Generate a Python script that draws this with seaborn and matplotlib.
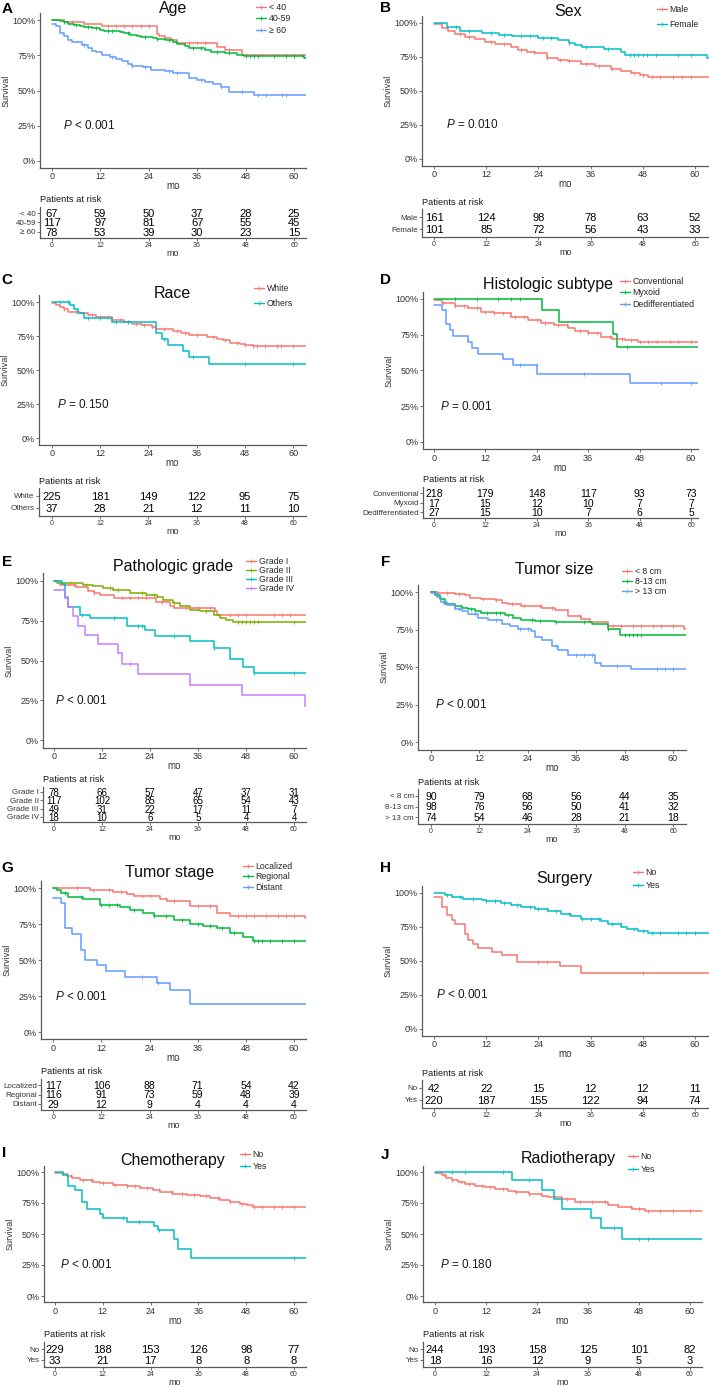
import numpy as np
import matplotlib
matplotlib.use("Agg")
import matplotlib.pyplot as plt
from matplotlib.lines import Line2D
import seaborn as sns

W, H = 709, 1387
TICKS = [0, 12, 24, 36, 48, 60]

# ---- ggplot default hue colours
C2 = ["#F8766D", "#00BFC4"]
C3 = ["#F8766D", "#00BA38", "#619CFF"]
C4 = ["#F8766D", "#7CAE00", "#00BFC4", "#C77CFF"]

# ---- A: Age
age_lt40_t = [0, 3, 8, 12.5, 26, 26.5, 28, 29.5, 31, 41, 43, 47]
age_lt40_s = [1.0, 0.985, 0.97, 0.955, 0.90, 0.89, 0.875, 0.86, 0.84, 0.81, 0.785, 0.755]
age_lt40_c = [5, 14, 16, 18, 20, 22, 24, 34, 36, 38, 44, 48, 50, 52, 58, 60, 62]
age_40_59_t = [0, 2, 3, 4, 5.5, 7, 8, 10, 12, 13, 17, 18, 19.5, 21, 22, 25, 26, 28, 30, 31, 33, 34, 38, 39.5, 43, 46, 47.5, 62.5]
age_40_59_s = [1.0, 0.99, 0.983, 0.975, 0.965, 0.957, 0.948, 0.94, 0.932, 0.925, 0.915, 0.905, 0.895, 0.887,
               0.878, 0.87, 0.862, 0.855, 0.847, 0.83, 0.815, 0.80, 0.79, 0.775, 0.765, 0.755, 0.748, 0.73]
age_40_59_c = [3, 6, 9, 11, 14, 15, 19, 23, 26, 29, 35, 37, 41, 44, 48, 49, 50, 51, 55, 58, 60]
age_ge60_t = [0, 1, 2, 3, 4, 5, 7.5, 9, 10, 11, 12.5, 14.5, 16, 17.5, 19, 20, 22.5, 24.5, 28, 30, 34, 36, 38, 40, 42, 44, 50]
age_ge60_s = [0.975, 0.955, 0.91, 0.89, 0.86, 0.845, 0.82, 0.80, 0.78, 0.77, 0.755, 0.74, 0.725, 0.71, 0.69,
              0.675, 0.665, 0.645, 0.635, 0.625, 0.59, 0.575, 0.56, 0.545, 0.525, 0.49, 0.465]
age_ge60_c = [8, 15, 20, 23, 29, 31, 37, 42, 47, 51, 53, 57, 58]
age_labels = ["< 40", "40-59", "\u2265 60"]
age_risk = [[67, 59, 50, 37, 28, 25], [117, 97, 81, 67, 55, 45], [78, 53, 39, 30, 23, 15]]

# ---- B: Sex
sex_male_t = [0, 1.8, 3.3, 4.8, 7.1, 9.4, 11.7, 14, 17.8, 19.4, 21.3, 23.2, 25.9, 28.6, 30.9, 33.9, 37, 40.8, 43.1, 45.4, 47.3, 49.3]
sex_male_s = [0.99, 0.965, 0.94, 0.92, 0.90, 0.88, 0.857, 0.843, 0.825, 0.80, 0.79, 0.78, 0.745, 0.73, 0.72,
              0.695, 0.685, 0.66, 0.648, 0.636, 0.616, 0.604]
sex_male_c = [3, 6, 8, 13, 16, 20, 23, 26, 29, 31, 35, 38, 41, 46, 48, 50, 52, 55, 57, 59]
sex_female_t = [0, 3, 6, 11, 15, 18, 24, 28.5, 31, 32.5, 34, 39, 43, 44, 62.8]
sex_female_s = [1.0, 0.97, 0.94, 0.93, 0.915, 0.905, 0.89, 0.875, 0.855, 0.84, 0.825, 0.81, 0.79, 0.765, 0.745]
sex_female_c = [5, 8, 13, 16, 20, 22, 25, 27, 31, 35, 40, 45, 46, 47, 48, 49, 51, 56, 59]
sex_labels = ["Male", "Female"]
sex_risk = [[161, 124, 98, 78, 63, 52], [101, 85, 72, 56, 43, 33]]

# ---- C: Race
race_white_t = [0, 1, 2, 3, 4, 7, 9, 11, 15, 18, 20, 22.5, 25, 26, 30, 32, 34, 38.5, 41, 42.6, 44.3, 46.8, 48, 50]
race_white_s = [0.99, 0.98, 0.965, 0.945, 0.93, 0.92, 0.905, 0.89, 0.87, 0.853, 0.84, 0.828, 0.815, 0.803,
                0.785, 0.77, 0.76, 0.746, 0.73, 0.717, 0.70, 0.692, 0.685, 0.677]
race_white_c = [3, 6, 10, 12, 14, 17, 19, 21, 23, 25, 28, 31, 33, 36, 40, 43, 46, 48, 50, 51, 53, 56, 57, 60]
race_other_t = [0, 4.5, 5.5, 6.5, 8, 15, 26, 27.5, 29, 32.5, 34, 39]
race_other_s = [1.0, 0.975, 0.95, 0.92, 0.88, 0.85, 0.77, 0.73, 0.685, 0.64, 0.595, 0.542]
race_other_c = [2, 4, 9, 12, 16, 19, 28, 35, 48, 60]
race_labels = ["White", "Others"]
race_risk = [[225, 181, 149, 122, 95, 75], [37, 28, 21, 12, 11, 10]]

# ---- D: Histologic subtype
hist_conv_t = [0, 1.8, 4.9, 8, 11, 14, 18, 22, 25, 28, 31.4, 33, 36, 39, 41.5, 44.6, 47.7, 51.6]
hist_conv_s = [0.99, 0.97, 0.953, 0.935, 0.91, 0.90, 0.877, 0.853, 0.835, 0.82, 0.80, 0.777, 0.76, 0.737,
               0.72, 0.714, 0.702, 0.698]
hist_conv_c = [2, 5, 7, 10, 12, 14, 16, 19, 21, 24, 26, 29, 31, 34, 36, 38, 41, 44, 46, 48, 50, 52, 55, 57, 60]
hist_myx_t = [0, 25.3, 29.2, 41.9, 42.8]
hist_myx_s = [1.0, 0.923, 0.837, 0.753, 0.667]
hist_myx_c = [5, 10, 15, 18, 20, 45]
hist_dd_t = [0, 1.8, 2.7, 3.7, 4.5, 8, 8.8, 10.3, 16.2, 18.5, 24.1, 45.7]
hist_dd_s = [0.96, 0.923, 0.823, 0.784, 0.744, 0.70, 0.656, 0.616, 0.58, 0.535, 0.474, 0.41]
hist_dd_c = [20, 24, 35, 53, 60]
hist_labels = ["Conventional", "Myxoid", "Dedifferentiated"]
hist_risk = [[218, 179, 148, 117, 93, 73], [17, 15, 12, 10, 7, 7], [27, 15, 10, 7, 6, 5]]

# ---- E: Pathologic grade
grade1_t = [0, 1.5, 5.5, 8.5, 10, 11.5, 15, 25.5, 29, 30, 40.2, 40.8]
grade1_s = [1.0, 0.975, 0.962, 0.94, 0.925, 0.91, 0.893, 0.866, 0.845, 0.83, 0.81, 0.788]
grade1_c = [5, 10, 17, 19, 21, 23, 27, 33, 36, 39, 44, 46, 48, 55, 57, 59]
grade2_t = [0, 0.7, 7.3, 9.8, 12.3, 14.8, 19, 23, 25.7, 27.3, 29.8, 31.5, 34, 36.5, 40, 41.5, 43, 44.8]
grade2_s = [1.0, 0.987, 0.977, 0.966, 0.956, 0.945, 0.924, 0.914, 0.897, 0.882, 0.86, 0.84, 0.82, 0.809,
            0.788, 0.767, 0.752, 0.742]
grade2_c = [4, 8, 14, 16, 22, 25, 30, 38, 46, 47, 48, 49, 50, 51, 60]
grade3_t = [0, 1.9, 2.7, 3.6, 6.5, 9, 18.2, 22.8, 25.2, 34, 40, 44, 47.3, 50]
grade3_s = [1.0, 0.98, 0.90, 0.834, 0.788, 0.765, 0.718, 0.689, 0.651, 0.62, 0.578, 0.508, 0.462, 0.42]
grade3_c = [7, 15, 21, 22, 30, 40, 50, 60]
grade4_t = [0, 2.7, 3.5, 4.8, 6, 7.7, 11, 16, 17, 21, 34, 47, 62.8]
grade4_s = [0.945, 0.89, 0.835, 0.777, 0.72, 0.662, 0.605, 0.546, 0.48, 0.414, 0.347, 0.28, 0.215]
grade4_c = [19]
grade_labels = ["Grade I", "Grade II", "Grade III", "Grade IV"]
grade_risk = [[78, 66, 57, 47, 37, 31], [117, 102, 85, 65, 54, 43], [49, 31, 22, 17, 11, 7], [18, 10, 6, 5, 4, 4]]

# ---- F: Tumor size
size_lt8_t = [0, 1.8, 5.9, 8.4, 9.7, 12.5, 15.8, 17.5, 19.1, 22.4, 27.4, 30.7, 34, 37.3, 39.4, 43.9, 62.8]
size_lt8_s = [1.0, 0.995, 0.99, 0.98, 0.96, 0.955, 0.945, 0.93, 0.922, 0.91, 0.893, 0.878, 0.838, 0.818,
              0.80, 0.773, 0.755]
size_lt8_c = [4, 7, 13, 16, 20, 23, 27, 30, 37, 45, 47, 50, 52, 55, 57, 60]
size_8_13_t = [0, 1, 2.2, 3.5, 5.9, 7.6, 9.2, 10.9, 12.5, 18.3, 20.4, 22.4, 25.7, 30.7, 39.8, 43.9, 46.8]
size_8_13_s = [1.0, 0.98, 0.955, 0.92, 0.907, 0.896, 0.889, 0.871, 0.86, 0.844, 0.829, 0.816, 0.804, 0.80,
               0.789, 0.756, 0.716]
size_8_13_c = [6, 10, 14, 16, 17, 19, 25, 27, 31, 38, 44, 48, 49, 50, 51, 52]
size_gt13_t = [0, 1.4, 2.6, 3.9, 5.9, 7.6, 9.2, 11.7, 14.2, 17.5, 19.6, 21.6, 24.9, 25.7, 27.4, 29.9, 31.5,
               34, 40.6, 42.2, 49.7]
size_gt13_s = [0.993, 0.967, 0.933, 0.911, 0.889, 0.873, 0.851, 0.829, 0.811, 0.789, 0.771, 0.756, 0.74, 0.70,
               0.682, 0.638, 0.611, 0.582, 0.529, 0.504, 0.489]
size_gt13_c = [3, 7, 11, 16, 22, 24, 31, 36, 38, 40, 46, 56, 58, 60]
size_labels = ["< 8 cm", "8-13 cm", "> 13 cm"]
size_risk = [[90, 79, 68, 56, 44, 35], [98, 76, 56, 50, 41, 32], [74, 54, 46, 28, 21, 18]]

# ---- G: Tumor stage
stage_loc_t = [0, 9.1, 15, 18.3, 20, 26.6, 28.3, 34, 40.7, 44, 62.8]
stage_loc_s = [1.0, 0.988, 0.972, 0.958, 0.942, 0.926, 0.912, 0.873, 0.826, 0.803, 0.795]
stage_loc_c = [6, 10, 14, 17, 22, 24, 28, 30, 36, 39, 46, 48, 50, 53, 56, 58, 60]
stage_reg_t = [0, 0.8, 2, 3.7, 7.5, 11.6, 16.6, 19, 22.4, 25, 30, 34, 37.4, 40.7, 44, 47.4, 49.9]
stage_reg_s = [1.0, 0.988, 0.965, 0.937, 0.924, 0.884, 0.868, 0.85, 0.826, 0.803, 0.775, 0.752, 0.734, 0.722,
               0.688, 0.657, 0.634]
stage_reg_c = [3, 7, 12, 14, 16, 20, 25, 28, 32, 36, 39, 42, 45, 50, 51, 52, 54, 57, 60]
stage_dist_t = [0, 2, 2.9, 4.6, 7, 7.9, 10.8, 13.1, 17.9, 25.8, 29.1, 34]
stage_dist_s = [0.93, 0.896, 0.722, 0.683, 0.572, 0.498, 0.463, 0.421, 0.382, 0.34, 0.289, 0.197]
stage_dist_c = [22, 26]
stage_labels = ["Localized", "Regional", "Distant"]
stage_risk = [[117, 106, 88, 71, 54, 42], [116, 91, 73, 59, 48, 39], [29, 12, 9, 4, 4, 4]]

# ---- H: Surgery
surg_no_t = [0, 1.9, 2.9, 4.1, 4.8, 7.1, 7.9, 9, 10.2, 13.3, 15.6, 19, 29, 33.9]
surg_no_s = [0.97, 0.90, 0.836, 0.80, 0.775, 0.697, 0.653, 0.623, 0.592, 0.567, 0.543, 0.494, 0.462, 0.413]
surg_no_c = [24, 26, 48]
surg_yes_t = [0, 2.5, 4.1, 6.7, 11, 12, 15.5, 17.8, 20.1, 23.2, 26.3, 29.3, 31.6, 33.9, 38.5, 40.1, 43.1,
              44.3, 47, 49.3]
surg_yes_s = [1.0, 0.988, 0.97, 0.958, 0.946, 0.94, 0.93, 0.914, 0.90, 0.885, 0.866, 0.848, 0.829, 0.807,
              0.792, 0.775, 0.75, 0.733, 0.719, 0.709]
surg_yes_c = [3, 6, 9, 12, 14, 16, 19, 22, 24, 26, 28, 31, 34, 36, 38, 41, 43, 46, 48, 50, 52, 56, 58, 60]
surg_labels = ["No", "Yes"]
surg_risk = [[42, 22, 15, 12, 12, 11], [220, 187, 155, 122, 94, 74]]

# ---- I: Chemotherapy
chemo_no_t = [0, 2.1, 3, 4.2, 6.3, 9.6, 11.3, 14.6, 18, 21.3, 24.7, 26.4, 29.7, 33.1, 36.4, 38.9, 41.4, 43.9,
              46.4, 48.1, 49.8]
chemo_no_s = [0.99, 0.987, 0.97, 0.952, 0.938, 0.919, 0.911, 0.898, 0.884, 0.871, 0.858, 0.839, 0.825, 0.817,
              0.804, 0.79, 0.772, 0.758, 0.745, 0.731, 0.72]
chemo_no_c = [2, 4, 7, 9, 12, 15, 18, 20, 23, 26, 29, 32, 35, 38, 41, 44, 47, 50, 52, 55, 57, 60]
chemo_yes_t = [0, 2.1, 3.2, 5, 6.9, 8.1, 11.3, 12.1, 18.2, 24.9, 25.9, 29.9, 31, 34.1]
chemo_yes_s = [1.0, 0.973, 0.884, 0.852, 0.758, 0.699, 0.664, 0.632, 0.597, 0.565, 0.53, 0.457, 0.382, 0.306]
chemo_yes_c = [3, 17, 21, 26, 60]
chemo_labels = ["No", "Yes"]
chemo_risk = [[229, 188, 153, 126, 98, 77], [33, 21, 17, 8, 8, 8]]

# ---- J: Radiotherapy
radio_no_t = [0, 1.6, 2.7, 3.9, 5.5, 7.1, 9.4, 11.8, 14.1, 17.2, 18.8, 22, 25.1, 26.7, 29.8, 32.9, 40.8,
              43.1, 46.3, 49.4]
radio_no_s = [0.99, 0.973, 0.951, 0.932, 0.916, 0.905, 0.889, 0.876, 0.862, 0.849, 0.838, 0.822, 0.808,
              0.797, 0.784, 0.762, 0.735, 0.716, 0.703, 0.686]
radio_no_c = [2, 4, 6, 8, 11, 13, 16, 19, 22, 25, 28, 31, 34, 37, 40, 43, 46, 48, 50, 53, 56, 60]
radio_yes_t = [0, 18, 25.1, 28, 29.9, 36.8, 39, 43.9]
radio_yes_s = [1.0, 0.932, 0.854, 0.784, 0.70, 0.632, 0.546, 0.459]
radio_yes_c = [4, 7, 16, 22, 42, 48, 50]
radio_labels = ["No", "Yes"]
radio_risk = [[244, 193, 158, 125, 101, 82], [18, 16, 12, 9, 5, 3]]

PANELS = [
    dict(letter="A", title="Age", p="< 0.001", labels=age_labels, colors=C3, risk=age_risk,
         curves=[(age_lt40_t, age_lt40_s, age_lt40_c), (age_40_59_t, age_40_59_s, age_40_59_c),
                 (age_ge60_t, age_ge60_s, age_ge60_c)]),
    dict(letter="B", title="Sex", p="= 0.010", labels=sex_labels, colors=C2, risk=sex_risk,
         curves=[(sex_male_t, sex_male_s, sex_male_c), (sex_female_t, sex_female_s, sex_female_c)]),
    dict(letter="C", title="Race", p="= 0.150", labels=race_labels, colors=C2, risk=race_risk,
         curves=[(race_white_t, race_white_s, race_white_c), (race_other_t, race_other_s, race_other_c)]),
    dict(letter="D", title="Histologic subtype", p="= 0.001", labels=hist_labels, colors=C3, risk=hist_risk,
         curves=[(hist_conv_t, hist_conv_s, hist_conv_c), (hist_myx_t, hist_myx_s, hist_myx_c),
                 (hist_dd_t, hist_dd_s, hist_dd_c)]),
    dict(letter="E", title="Pathologic grade", p="< 0.001", labels=grade_labels, colors=C4, risk=grade_risk,
         curves=[(grade1_t, grade1_s, grade1_c), (grade2_t, grade2_s, grade2_c),
                 (grade3_t, grade3_s, grade3_c), (grade4_t, grade4_s, grade4_c)]),
    dict(letter="F", title="Tumor size", p="< 0.001", labels=size_labels, colors=C3, risk=size_risk,
         curves=[(size_lt8_t, size_lt8_s, size_lt8_c), (size_8_13_t, size_8_13_s, size_8_13_c),
                 (size_gt13_t, size_gt13_s, size_gt13_c)]),
    dict(letter="G", title="Tumor stage", p="< 0.001", labels=stage_labels, colors=C3, risk=stage_risk,
         curves=[(stage_loc_t, stage_loc_s, stage_loc_c), (stage_reg_t, stage_reg_s, stage_reg_c),
                 (stage_dist_t, stage_dist_s, stage_dist_c)]),
    dict(letter="H", title="Surgery", p="< 0.001", labels=surg_labels, colors=C2, risk=surg_risk,
         curves=[(surg_no_t, surg_no_s, surg_no_c), (surg_yes_t, surg_yes_s, surg_yes_c)]),
    dict(letter="I", title="Chemotherapy", p="< 0.001", labels=chemo_labels, colors=C2, risk=chemo_risk,
         curves=[(chemo_no_t, chemo_no_s, chemo_no_c), (chemo_yes_t, chemo_yes_s, chemo_yes_c)]),
    dict(letter="J", title="Radiotherapy", p="= 0.180", labels=radio_labels, colors=C2, risk=radio_risk,
         curves=[(radio_no_t, radio_no_s, radio_no_c), (radio_yes_t, radio_yes_s, radio_yes_c)]),
]

# ---- layout in pixels: x=(left, x@0, x@60, right), y=(y@100%, y@0%), tab=(first row y, row step),
#      leg=(key x, first entry y, entry step), ttl=(x, y), let=(x, y), px=P text x in months
LAYOUT = {
    "A": dict(x=(40, 51.7, 294, 306), y=(20, 161), tab=(213, 9.5), leg=(256, 8, 13), ttl=(173, 8), let=(7, 9), px=2.8, fs=8),
    "B": dict(x=(422, 434, 695, 709), y=(23, 159), tab=(217, 12), leg=(657, 10, 17), ttl=(568, 11), let=(385, 8), px=2.8, fs=8),
    "C": dict(x=(39, 51.7, 293.3, 306), y=(302, 438), tab=(496, 12), leg=(254, 289, 17), ttl=(172, 293), let=(7, 280), px=1.3, fs=8),
    "D": dict(x=(423, 434, 691, 698), y=(299, 442), tab=(493, 9.5), leg=(620, 282, 13), ttl=(548, 285), let=(385, 280), px=1.4, fs=7.5),
    "E": dict(x=(43, 54, 294, 306), y=(581, 740), tab=(792, 8.3), leg=(246, 562, 10), ttl=(173, 566), let=(7, 562), px=0.3, fs=7),
    "F": dict(x=(418, 431, 673, 686), y=(592, 742), tab=(796, 10.5), leg=(622, 572, 11.5), ttl=(554, 570), let=(386, 562), px=1.0, fs=7.5),
    "G": dict(x=(41, 53.3, 294, 306), y=(888, 1032), tab=(1085, 9.5), leg=(243, 867, 12), ttl=(170, 872), let=(7, 868), px=0.4, fs=7.5),
    "H": dict(x=(422, 434, 695, 709), y=(893, 1029), tab=(1088, 12), leg=(633, 873, 14.5), ttl=(564, 878), let=(385, 868), px=0.4, fs=8),
    "I": dict(x=(44, 55, 294, 306), y=(1172, 1296), tab=(1349, 11), leg=(240, 1155, 14), ttl=(173, 1160), let=(4, 1153), px=1.2, fs=8),
    "J": dict(x=(423, 435, 690, 702), y=(1172, 1296), tab=(1349, 11), leg=(628, 1157, 15), ttl=(568, 1158), let=(385, 1155), px=1.2, fs=8),
}

AXIS_COL = "0.35"
TEXT_COL = "0.2"


def px_box(left, top, right, bottom):
    return [left / W, 1 - bottom / H, (right - left) / W, (bottom - top) / H]


def style_axis(ax):
    sns.despine(ax=ax)
    for side in ["left", "bottom"]:
        ax.spines[side].set_color(AXIS_COL)
        ax.spines[side].set_linewidth(0.9)
    ax.tick_params(bottom=True, left=True, direction="out", length=2.2, width=0.6,
                   color=AXIS_COL, labelcolor=TEXT_COL, pad=1.0)


def draw_panel(fig, panel, lay):
    left, x0, x60, right = lay["x"]
    y100, y0 = lay["y"]
    pxpm = (x60 - x0) / 60.0
    xmin, xmax = (left - x0) / pxpm, (right - x0) / pxpm
    unit = y0 - y100
    top, bottom = y100 - 0.05 * unit, y0 + 0.05 * unit

    # survival curves
    ax = fig.add_axes(px_box(left, top, right, bottom))
    handles = []
    for (t, s, cens), color in zip(panel["curves"], panel["colors"]):
        tt = list(t) + [xmax]
        ss = list(s) + [s[-1]]
        sns.lineplot(x=tt, y=ss, drawstyle="steps-post", color=color, lw=1.1,
                     errorbar=None, sort=False, ax=ax)
        idx = np.searchsorted(t, cens, side="right") - 1
        sns.scatterplot(x=cens, y=np.asarray(s)[idx], marker="|", s=7, color=color,
                        linewidth=0.6, ax=ax)
        handles.append(Line2D([], [], color=color, lw=1.0, marker="|", ms=2.5, mew=0.6))
    ax.set_xlim(xmin, xmax)
    ax.set_ylim(-0.05, 1.05)
    ax.set_xticks(TICKS)
    ax.set_yticks([0, 0.25, 0.5, 0.75, 1.0])
    ax.set_yticklabels(["0%", "25%", "50%", "75%", "100%"])
    style_axis(ax)
    ax.tick_params(labelsize=6.5)
    ax.set_xlabel("mo", fontsize=7, color=TEXT_COL, labelpad=0)
    ax.set_ylabel("Survival", fontsize=6.5, color=TEXT_COL)
    ax.yaxis.set_label_coords(-29 / (right - left), 0.5)
    ax.text(lay["px"], 0.25, "$P$ " + panel["p"], fontsize=8.5, ha="left", va="center", color="0.1")

    # legend outside, top right
    fs = 6.3
    fs_px = fs * 100 / 72
    kx, ky, ksp = lay["leg"]
    ax.legend(handles=handles, labels=panel["labels"], loc="upper left",
              bbox_to_anchor=(kx / W, 1 - (ky - 0.6 * fs_px) / H), bbox_transform=fig.transFigure,
              frameon=False, fontsize=fs, handlelength=1.1, handletextpad=0.35, borderpad=0,
              borderaxespad=0, labelspacing=max(0.0, (ksp - 1.2 * fs_px) / fs_px))

    fig.text(lay["ttl"][0] / W, 1 - lay["ttl"][1] / H, panel["title"], ha="center", va="center",
             fontsize=11.5, color="0.05")
    fig.text(lay["let"][0] / W, 1 - lay["let"][1] / H, panel["letter"], ha="center", va="center",
             fontsize=11, fontweight="bold", color="black")

    # risk table
    rows = panel["risk"]
    n = len(rows)
    r0, sp = lay["tab"]
    ttop, tbot = r0 - 0.65 * sp, r0 + (n - 1) * sp + 0.65 * sp
    tax = fig.add_axes(px_box(left, ttop, right, tbot))
    tax.set_xlim(xmin, xmax)
    tax.set_ylim(n - 1 + 0.65, -0.65)
    for i, row in enumerate(rows):
        for j, v in enumerate(row):
            tax.text(TICKS[j], i, str(v), ha="center", va="center_baseline", fontsize=lay["fs"], color="black")
    tax.set_xticks(TICKS)
    tax.set_yticks(range(n))
    tax.set_yticklabels(panel["labels"])
    style_axis(tax)
    tax.tick_params(axis="x", labelsize=5, length=2)
    tax.tick_params(axis="y", labelsize=5.8, length=2)
    tax.set_xlabel("mo", fontsize=6.5, color=TEXT_COL, labelpad=0)
    fig.text(left / W, 1 - (ttop - 7) / H, "Patients at risk", ha="left", va="center",
             fontsize=6.7, color="0.1")


sns.set_style("white")
plt.rcParams["font.family"] = ["Liberation Sans", "DejaVu Sans"]
plt.rcParams["mathtext.fontset"] = "custom"
plt.rcParams["mathtext.it"] = "Liberation Sans:italic"
plt.rcParams["mathtext.rm"] = "Liberation Sans"

fig = plt.figure(figsize=(W / 100, H / 100), dpi=100)
for panel in PANELS:
    draw_panel(fig, panel, LAYOUT[panel["letter"]])

fig.savefig("out.png", dpi=100, facecolor="white")
